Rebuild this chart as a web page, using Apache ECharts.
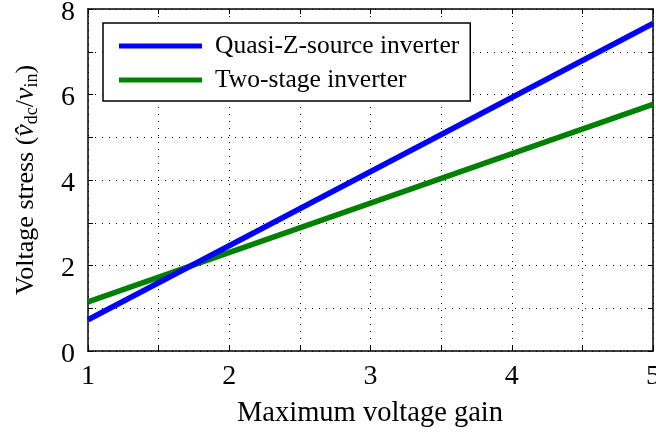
<!DOCTYPE html>
<html>
<head>
<meta charset="utf-8">
<script src="https://cdn.jsdelivr.net/npm/echarts@6/dist/echarts.min.js"></script>
<style>
  html, body { margin: 0; padding: 0; background: #fff; }
  #chart { width: 656px; height: 433px; }
</style>
</head>
<body>
<div id="chart"></div>
<script>
// values
const gain = [1, 5]
const quasiZ = [0.73, 7.66]
const twoStage = [1.15, 5.77]
const seriesNames = ['Quasi-Z-source inverter', 'Two-stage inverter']

const font = 'Liberation Serif, Times New Roman, serif'

const chart = echarts.init(document.getElementById('chart'))

const pairs = (ys) => gain.map((g, i) => [g, ys[i]])

const baseX = {
  type: 'value',
  min: 1,
  max: 5,
  interval: 0.5,
  axisLine: { show: true, onZero: false, lineStyle: { color: '#000', width: 1.5 } },
  axisTick: { show: true, inside: true, length: 5, lineStyle: { color: '#000', width: 1 } },
  splitLine: { show: false },
}
const baseY = {
  type: 'value',
  min: 0,
  max: 8,
  interval: 1,
  axisLine: { show: true, onZero: false, lineStyle: { color: '#000', width: 1.5 } },
  axisTick: { show: true, inside: true, length: 5, lineStyle: { color: '#000', width: 1 } },
  splitLine: { show: false },
}

const option = {
  backgroundColor: '#fff',
  animation: false,
  grid: { left: 88, right: 3, top: 9, bottom: 82, outerBoundsMode: 'none', containLabel: false },
  xAxis: [
    {
      ...baseX,
      position: 'bottom',
      axisLabel: {
        color: '#000',
        fontFamily: font,
        fontSize: 28,
        margin: 12,
        hideOverlap: false,
        formatter: (v) => (v % 1 === 0 ? String(v) : ''),
      },
      splitLine: { show: true, lineStyle: { color: '#000', type: [1, 6], width: 1 } },
    },
    { ...baseX, position: 'top', axisLabel: { show: false } },
  ],
  yAxis: [
    {
      ...baseY,
      position: 'left',
      axisLabel: {
        color: '#000',
        fontFamily: font,
        fontSize: 28,
        margin: 13,
        verticalAlign: 'top',
        lineHeight: 7,
        hideOverlap: false,
        formatter: (v) => (v % 2 === 0 ? String(v) : ''),
      },
      splitLine: { show: true, lineStyle: { color: '#000', type: [1, 6], width: 1 } },
    },
    { ...baseY, position: 'right', axisLabel: { show: false } },
  ],
  legend: {
    orient: 'vertical',
    left: 103,
    top: 23,
    icon: 'rect',
    itemWidth: 83,
    itemHeight: 5,
    itemGap: 8,
    padding: [10, 11, 8, 16],
    backgroundColor: '#fff',
    borderColor: '#000',
    borderWidth: 1.5,
    borderRadius: 0,
    textStyle: {
      color: '#000',
      fontFamily: font,
      fontSize: 25.5,
      lineHeight: 26,
      padding: [0, 0, 0, 8],
    },
    data: seriesNames,
  },
  series: [
    {
      name: seriesNames[0],
      type: 'line',
      data: pairs(quasiZ),
      showSymbol: false,
      symbol: 'none',
      lineStyle: { color: '#0000ff', width: 5.5 },
      itemStyle: { color: '#0000ff' },
      z: 3,
    },
    {
      name: seriesNames[1],
      type: 'line',
      data: pairs(twoStage),
      showSymbol: false,
      symbol: 'none',
      lineStyle: { color: '#008000', width: 5.5 },
      itemStyle: { color: '#008000' },
      z: 2,
    },
  ],
  graphic: [
    {
      type: 'text',
      x: 370,
      y: 414,
      style: {
        text: 'Maximum voltage gain',
        fill: '#000',
        font: '28.5px ' + font,
        align: 'center',
        verticalAlign: 'middle',
      },
    },
    {
      type: 'text',
      x: 26,
      y: 180,
      rotation: Math.PI / 2,
      style: {
        text: '{n|Voltage stress (}{i|v\u0302}{s|dc}{n|/}{i|v}{s|in}{n|)}',
        align: 'center',
        verticalAlign: 'middle',
        fill: '#000',
        rich: {
          n: { fontFamily: font, fontSize: 26, fill: '#000' },
          i: { fontFamily: font, fontSize: 28, fontStyle: 'italic', fill: '#000' },
          s: { fontFamily: font, fontSize: 18, fill: '#000', padding: [12, 0, 0, 0] },
        },
      },
    },
  ],
}

chart.setOption(option)
</script>
</body>
</html>
